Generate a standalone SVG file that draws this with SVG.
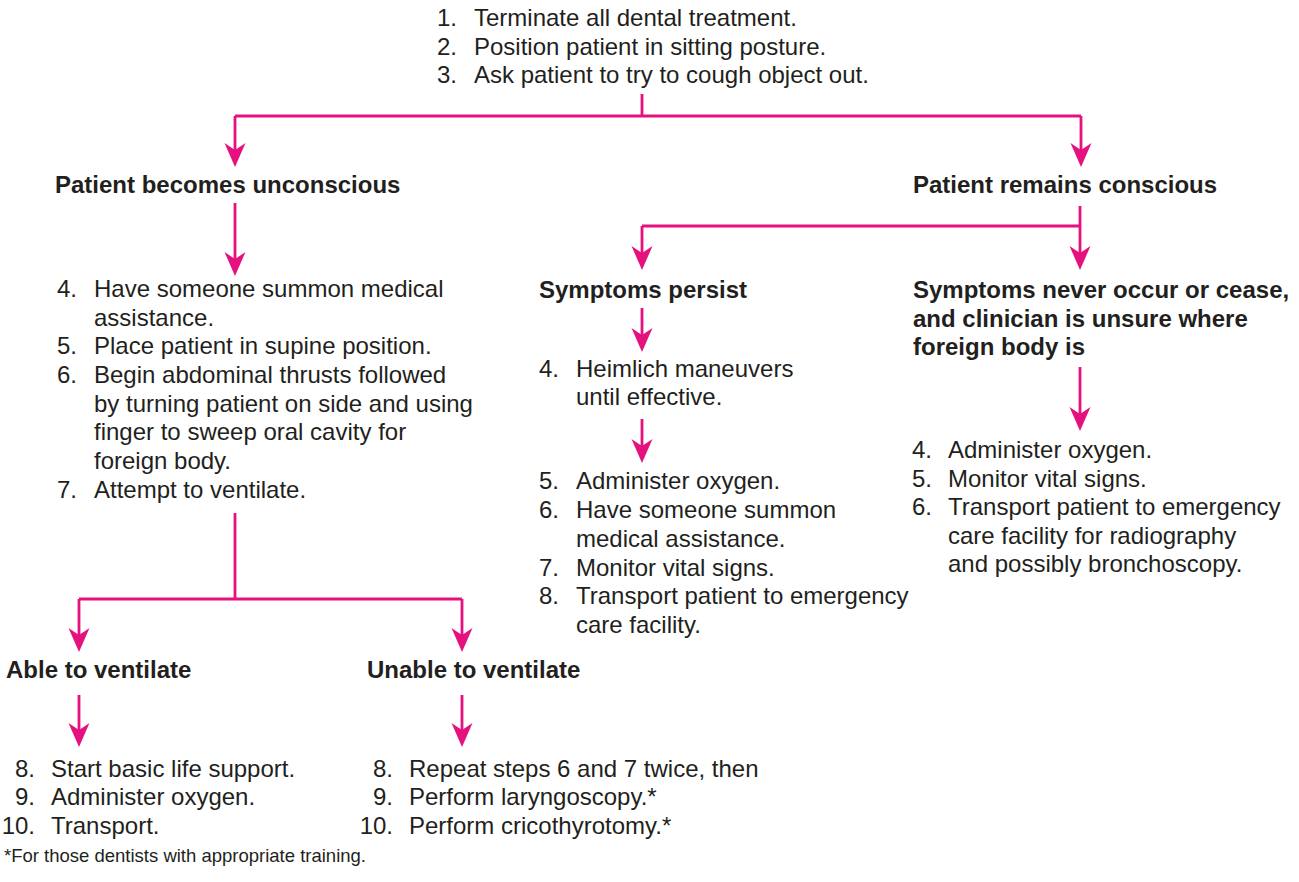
<svg xmlns="http://www.w3.org/2000/svg" width="1299" height="882" viewBox="0 0 1299 882">
<style>
text{font-family:"Liberation Sans",Arial,Helvetica,sans-serif;font-size:24px;fill:#231f20}
.b{font-weight:bold}
.n{text-anchor:end}
.fn{font-size:18.5px}
.c{fill:none;stroke:#e4117f;stroke-width:2.8}
</style>
<defs>
<marker id="ah" markerUnits="userSpaceOnUse" markerWidth="24" markerHeight="22" viewBox="0 -11 24 22" refX="9" refY="0" orient="auto">
<path d="M24 0 L0 -10.5 L7 0 L0 10.5 Z" fill="#e4117f"/>
</marker>
</defs>
<rect width="1299" height="882" fill="#fff"/>
<g id="connectors">
<path class="c" d="M642 94 V116 M235 116 H1081"/>
<path class="c" d="M235 116 V152" marker-end="url(#ah)"/>
<path class="c" d="M1081 116 V152" marker-end="url(#ah)"/>
<path class="c" d="M235 203 V261" marker-end="url(#ah)"/>
<path class="c" d="M1080 206 V255" marker-end="url(#ah)"/>
<path class="c" d="M642 226 H1080"/>
<path class="c" d="M642 226 V255" marker-end="url(#ah)"/>
<path class="c" d="M642 308 V337" marker-end="url(#ah)"/>
<path class="c" d="M642 419 V448" marker-end="url(#ah)"/>
<path class="c" d="M1080 367 V416" marker-end="url(#ah)"/>
<path class="c" d="M235 513 V599 M79 599 H462"/>
<path class="c" d="M79 599 V637" marker-end="url(#ah)"/>
<path class="c" d="M462 599 V637" marker-end="url(#ah)"/>
<path class="c" d="M79 695 V732" marker-end="url(#ah)"/>
<path class="c" d="M462 695 V732" marker-end="url(#ah)"/>
</g>
<g id="start">
<text class="n" x="457" y="26">1.</text><text x="474" y="26">Terminate all dental treatment.</text>
<text class="n" x="457" y="54.5">2.</text><text x="474" y="54.5">Position patient in sitting posture.</text>
<text class="n" x="457" y="83">3.</text><text x="474" y="83">Ask patient to try to cough object out.</text>
</g>
<g id="unconscious"><text class="b" x="55" y="193">Patient becomes unconscious</text></g>
<g id="conscious"><text class="b" x="913" y="193">Patient remains conscious</text></g>
<g id="unconscious-steps">
<text class="n" x="77" y="297">4.</text><text x="94" y="297">Have someone summon medical</text>
<text x="94" y="325.5">assistance.</text>
<text class="n" x="77" y="354">5.</text><text x="94" y="354">Place patient in supine position.</text>
<text class="n" x="77" y="383">6.</text><text x="94" y="383">Begin abdominal thrusts followed</text>
<text x="94" y="411.5">by turning patient on side and using</text>
<text x="94" y="440">finger to sweep oral cavity for</text>
<text x="94" y="469">foreign body.</text>
<text class="n" x="77" y="498">7.</text><text x="94" y="498">Attempt to ventilate.</text>
</g>
<g id="persist"><text class="b" x="539" y="298">Symptoms persist</text></g>
<g id="heimlich">
<text class="n" x="559" y="377">4.</text><text x="576" y="377">Heimlich maneuvers</text>
<text x="576" y="405">until effective.</text>
</g>
<g id="persist-steps">
<text class="n" x="559" y="489">5.</text><text x="576" y="489">Administer oxygen.</text>
<text class="n" x="559" y="518">6.</text><text x="576" y="518">Have someone summon</text>
<text x="576" y="546.5">medical assistance.</text>
<text class="n" x="559" y="575.5">7.</text><text x="576" y="575.5">Monitor vital signs.</text>
<text class="n" x="559" y="604">8.</text><text x="576" y="604">Transport patient to emergency</text>
<text x="576" y="633">care facility.</text>
</g>
<g id="cease">
<text class="b" x="913" y="298">Symptoms never occur or cease,</text>
<text class="b" x="913" y="327">and clinician is unsure where</text>
<text class="b" x="913" y="355">foreign body is</text>
</g>
<g id="cease-steps">
<text class="n" x="932" y="458">4.</text><text x="948" y="458">Administer oxygen.</text>
<text class="n" x="932" y="487">5.</text><text x="948" y="487">Monitor vital signs.</text>
<text class="n" x="932" y="515">6.</text><text x="948" y="515">Transport patient to emergency</text>
<text x="948" y="544">care facility for radiography</text>
<text x="948" y="572">and possibly bronchoscopy.</text>
</g>
<g id="able"><text class="b" x="6" y="678">Able to ventilate</text></g>
<g id="unable"><text class="b" x="367" y="678">Unable to ventilate</text></g>
<g id="able-steps">
<text class="n" x="35" y="777">8.</text><text x="51" y="777">Start basic life support.</text>
<text class="n" x="35" y="805">9.</text><text x="51" y="805">Administer oxygen.</text>
<text class="n" x="35" y="834">10.</text><text x="51" y="834">Transport.</text>
</g>
<g id="unable-steps">
<text class="n" x="393" y="777">8.</text><text x="409" y="777">Repeat steps 6 and 7 twice, then</text>
<text class="n" x="393" y="805">9.</text><text x="409" y="805">Perform laryngoscopy.*</text>
<text class="n" x="393" y="834">10.</text><text x="409" y="834">Perform cricothyrotomy.*</text>
</g>
<g id="footnote"><text class="fn" x="4" y="862">*For those dentists with appropriate training.</text></g>
</svg>
